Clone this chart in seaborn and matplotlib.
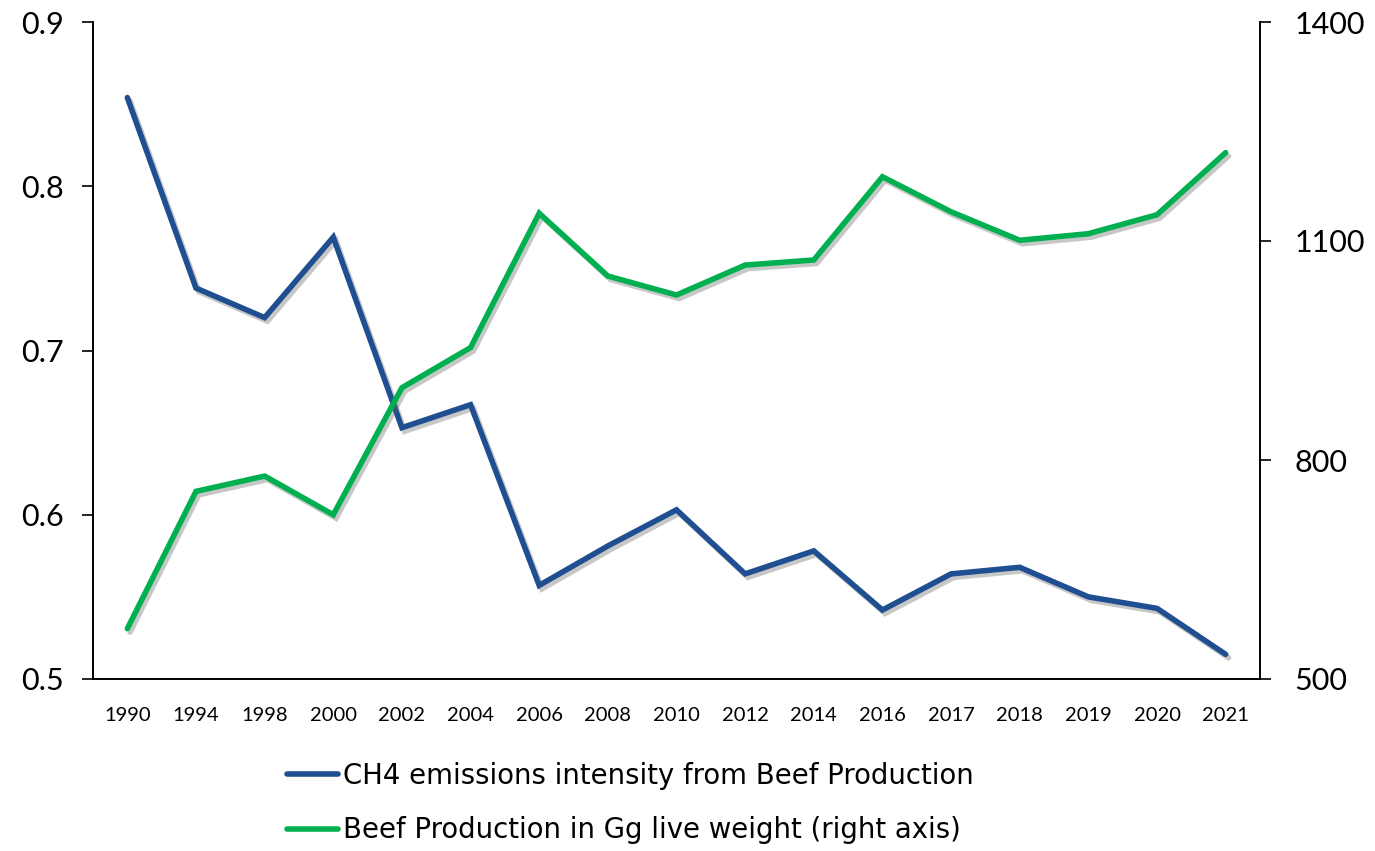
import matplotlib
matplotlib.use("Agg")
import matplotlib.pyplot as plt
import matplotlib.patheffects as pe
import pandas as pd
import seaborn as sns

years = ["1990", "1994", "1998", "2000", "2002", "2004", "2006", "2008", "2010",
         "2012", "2014", "2016", "2017", "2018", "2019", "2020", "2021"]
ch4_intensity = [0.854, 0.738, 0.720, 0.769, 0.653, 0.667, 0.557, 0.581, 0.603,
                 0.564, 0.578, 0.542, 0.564, 0.568, 0.550, 0.543, 0.515]
beef_production = [569, 757, 778, 725, 899, 954, 1138, 1052, 1026,
                   1067, 1074, 1188, 1140, 1101, 1110, 1136, 1221]

blue = "#1F4E91"
green = "#00B050"

sns.set_theme(style="white")
plt.rcParams["font.family"] = ["Lato", "DejaVu Sans"]
plt.rcParams["text.color"] = "black"

df = pd.DataFrame({"year": years, "ch4": ch4_intensity, "beef": beef_production})

fig = plt.figure(figsize=(13.75, 8.51), dpi=100)
ax = fig.add_axes([93 / 1375, 1 - 679 / 851, (1260 - 93) / 1375, (679 - 22) / 851])
ax2 = ax.twinx()

shadow = [pe.SimpleLineShadow(offset=(2, -2.5), shadow_color="#606060", alpha=0.35),
          pe.Normal()]

sns.lineplot(data=df, x="year", y="ch4", ax=ax, color=blue, linewidth=4,
             sort=False, label="CH4 emissions intensity from Beef Production",
             legend=False)
sns.lineplot(data=df, x="year", y="beef", ax=ax2, color=green, linewidth=4,
             sort=False, label="Beef Production in Gg live weight (right axis)",
             legend=False)
for a in (ax, ax2):
    for ln in a.get_lines():
        ln.set_path_effects(shadow)
        ln.set_solid_capstyle("round")
        ln.set_solid_joinstyle("miter")

ax.set_xlim(-0.5, len(years) - 0.5)
ax.set_ylim(0.5, 0.9)
ax.set_yticks([0.5, 0.6, 0.7, 0.8, 0.9])
ax.set_yticklabels(["0.5", "0.6", "0.7", "0.8", "0.9"])
ax2.set_ylim(500, 1400)
ax2.set_yticks([500, 800, 1100, 1400])
ax2.set_yticklabels(["500", "800", "1100", "1400"])

ax.set_xlabel("")
ax.set_ylabel("")
ax2.set_ylabel("")

for a in (ax, ax2):
    a.spines["top"].set_visible(False)
    for side in ("left", "right", "bottom"):
        a.spines[side].set_color("black")
        a.spines[side].set_linewidth(1.2)

ax.tick_params(axis="y", which="both", left=True, direction="out", length=8,
               width=1.2, color="black", labelsize=22, pad=13, labelcolor="black")
ax.tick_params(axis="x", bottom=False, labelsize=14.5, pad=14, labelcolor="black")
ax2.tick_params(axis="y", right=True, direction="out", length=8, width=1.2,
                color="black", labelsize=22, pad=17, labelcolor="black")

handles = ax.get_lines()[:1] + ax2.get_lines()[:1]
labels = [h.get_label() for h in handles]
leg = fig.legend(handles, labels, loc="upper left",
                 bbox_to_anchor=(276 / 1375, 1 - 751 / 851),
                 frameon=False, handlelength=1.85,
                 handletextpad=0.2, labelspacing=0.95, borderaxespad=0,
                 prop={"family": ["DejaVu Sans"], "size": 19.8})
for t in leg.get_texts():
    t.set_color("black")
for h in leg.legend_handles:
    h.set_linewidth(4)
    h.set_path_effects([])

fig.savefig("out.png", dpi=100, facecolor="white")
